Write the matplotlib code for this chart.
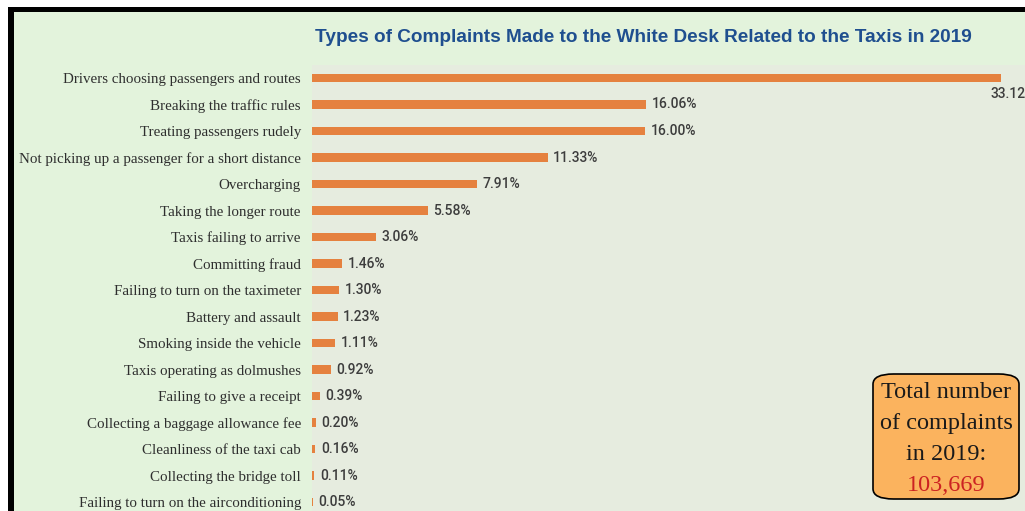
import matplotlib.pyplot as plt
from matplotlib.patches import Rectangle, FancyBboxPatch

# data
categories = [
    "Drivers choosing passengers and routes",
    "Breaking the traffic rules",
    "Treating passengers rudely",
    "Not picking up a passenger for a short distance",
    "Overcharging",
    "Taking the longer route",
    "Taxis failing to arrive",
    "Committing fraud",
    "Failing to turn on the taximeter",
    "Battery and assault",
    "Smoking inside the vehicle",
    "Taxis operating as dolmushes",
    "Failing to give a receipt",
    "Collecting a baggage allowance fee",
    "Cleanliness of the taxi cab",
    "Collecting the bridge toll",
    "Failing to turn on the airconditioning",
]
shares = [33.12, 16.06, 16.00, 11.33, 7.91, 5.58, 3.06, 1.46, 1.30, 1.23,
          1.11, 0.92, 0.39, 0.20, 0.16, 0.11, 0.05]
total_complaints = "103,669"

W, H = 1025, 511
fig = plt.figure(figsize=(W / 100, H / 100), dpi=100)
fig.patch.set_facecolor('white')

# green panel and black frame (top and left edges)
fig.patches.append(Rectangle((8 / W, 0), 1, 1 - 8 / H, transform=fig.transFigure,
                             facecolor='#e3f3dc', edgecolor='none', zorder=-2))
fig.patches.append(Rectangle((8 / W, 1 - 12 / H), 1, 5 / H, transform=fig.transFigure,
                             facecolor='black', edgecolor='none', zorder=-1))
fig.patches.append(Rectangle((8 / W, 0), 6 / W, 1 - 8 / H, transform=fig.transFigure,
                             facecolor='black', edgecolor='none', zorder=-1))

ax = fig.add_axes([312 / W, 0, 1 - 312 / W, 1 - 65 / H])
ax.set_facecolor('#e6ecdf')
ypos = list(range(len(categories)))
ax.barh(ypos, shares, height=0.33, color='#e5813f')
ax.set_xlim(0, (W - 312) / 20.8)
ax.set_ylim((H - 78) / 26.5, -13 / 26.5)
for s in ax.spines.values():
    s.set_visible(False)
ax.set_xticks([])
ax.set_yticks(ypos)
ax.set_yticklabels(categories, family='Liberation Serif', fontsize=10.8, color='#2e2e2e')
ax.tick_params(axis='y', length=0, pad=8)

vfont = ['Roboto', 'DejaVu Sans']
for i, v in enumerate(shares):
    if i == 0:
        ax.text(32.6, 0.6, f"{v:.2f}%", family=vfont, fontsize=10, fontweight='medium',
                color='#3d3d3d', ha='left', va='center', clip_on=False)
    else:
        ax.annotate(f"{v:.2f}%", (v, i), xytext=(4, 0), textcoords='offset points',
                    family=vfont, fontsize=10, fontweight='medium', color='#3d3d3d',
                    va='center')

fig.text(643 / W, 1 - 37 / H,
         "Types of Complaints Made to the White Desk Related to the Taxis in 2019",
         family='Liberation Sans', fontweight='bold', fontsize=13.7, color='#1f4f8f',
         ha='center', va='center')

box = FancyBboxPatch((873 / W, 1 - 499 / H), 146 / W, 125 / H,
                     boxstyle='round,pad=0,rounding_size=0.02',
                     transform=fig.transFigure, facecolor='#fbb35e',
                     edgecolor='black', linewidth=1.2, zorder=3)
fig.patches.append(box)
lines = ["Total number", "of complaints", "in 2019:"]
for k, t in enumerate(lines):
    fig.text(946 / W, 1 - (392 + 31 * k) / H, t, family='Liberation Serif',
             fontsize=17.5, color='#1a1a1a', ha='center', va='center', zorder=4)
fig.text(946 / W, 1 - 485 / H, total_complaints, family='Liberation Serif',
         fontsize=17.5, color='#cc2222', ha='center', va='center', zorder=4)

fig.savefig('out.png', dpi=100, facecolor=fig.get_facecolor())
